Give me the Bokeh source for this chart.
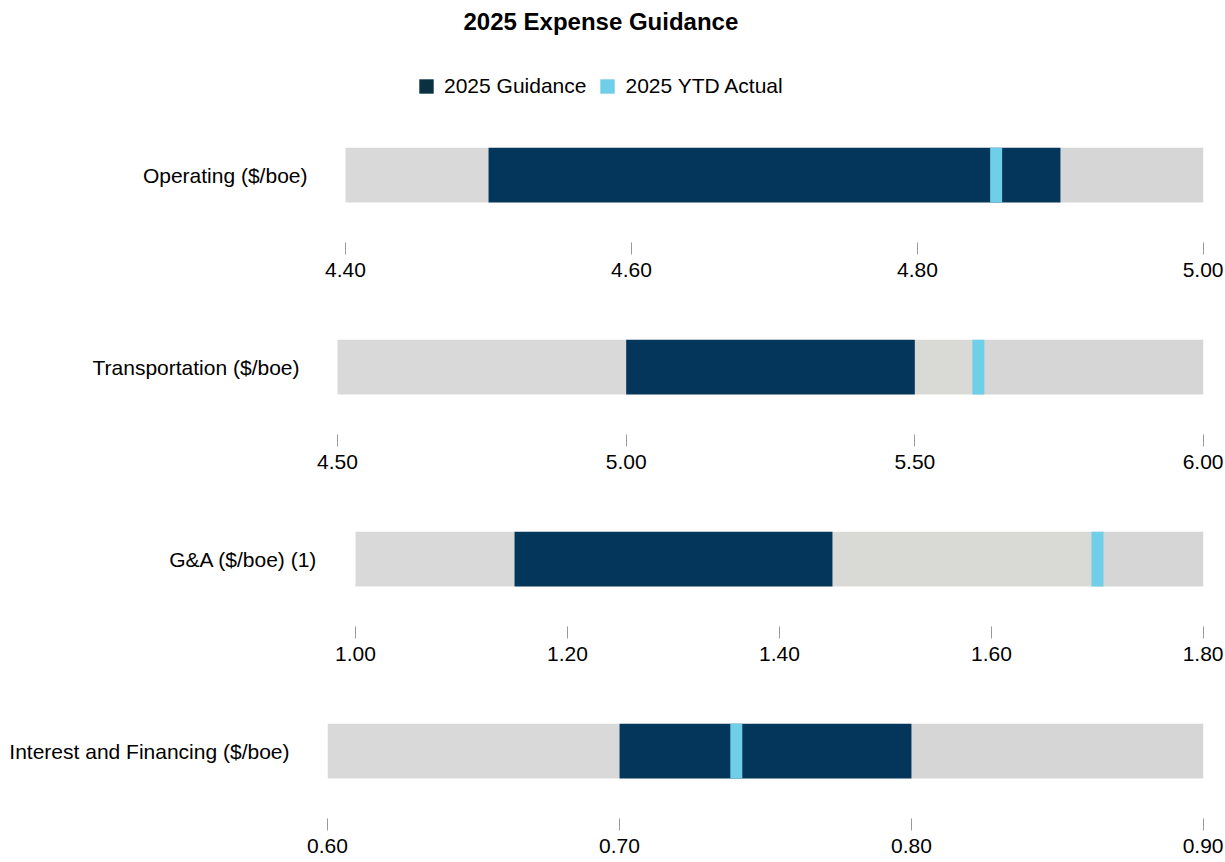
from bokeh.plotting import figure
from bokeh.layouts import column
from bokeh.models import (Range1d, FixedTicker, NumeralTickFormatter, Legend, LegendItem,
                          ColumnDataSource)
from bokeh.embed import file_html
from bokeh.resources import INLINE

# ---------------- data ----------------
labels = ["Operating ($/boe)", "Transportation ($/boe)", "G&A ($/boe) (1)",
          "Interest and Financing ($/boe)"]
axis_min = [4.40, 4.50, 1.00, 0.60]
axis_max = [5.00, 6.00, 1.80, 0.90]
guidance_low = [4.50, 5.00, 1.15, 0.70]
guidance_high = [4.90, 5.50, 1.45, 0.80]
ytd_actual = [4.855, 5.61, 1.70, 0.74]
tick_values = [
    [4.40, 4.60, 4.80, 5.00],
    [4.50, 5.00, 5.50, 6.00],
    [1.00, 1.20, 1.40, 1.60, 1.80],
    [0.60, 0.70, 0.80, 0.90],
]
series_names = ["2025 Guidance", "2025 YTD Actual"]

# ---------------- style / layout ----------------
FONT = "Liberation Sans"
NAVY = "#03365a"
LIGHT_BLUE = "#6fcfe8"
LEGEND_NAVY = "#0a3140"
GREY_LEFT = "#d9d9d9"
GREY_MID = "#d9d9d6"
GREY_RIGHT = "#d6d6d6"
bar_start_px = [345, 337, 355, 327]   # x where each row's bar starts
FRAME_LEFT = min(bar_start_px)
FRAME_RIGHT = 1203
BORDER_L = FRAME_LEFT
BORDER_R = 20
PAGE_W = BORDER_L + (FRAME_RIGHT - FRAME_LEFT) + BORDER_R
BAR_PX = 55
GAP_PX = 40
HEADER_H = 100
ROW_TOP = 47
ROW_BOTTOM = 50
LAST_BOTTOM = 44
LABEL_GAP = 32

# ---------------- header: title + legend ----------------
header = figure(width=PAGE_W, height=HEADER_H, output_backend="svg", toolbar_location=None,
                x_range=Range1d(0, 1), y_range=Range1d(0, 1),
                x_axis_type=None, y_axis_type=None,
                min_border_left=BORDER_L, min_border_right=BORDER_R,
                min_border_top=4, min_border_bottom=0)
header.outline_line_color = None
header.grid.visible = False
header.title.text = "2025 Expense Guidance"
header.title.align = "left"
header.title.offset = 464 - FRAME_LEFT - 1
header.title.text_font = FONT
header.title.text_font_size = "24px"
header.title.text_font_style = "bold"
header.title.text_color = "#000000"

nan = float("nan")
dummy = ColumnDataSource(data=dict(x=[nan], y=[nan]))
r_g = header.rect(x="x", y="y", width=0.01, height=0.01, source=dummy,
                  fill_color=LEGEND_NAVY, line_color=None)
r_y = header.rect(x="x", y="y", width=0.01, height=0.01, source=dummy,
                  fill_color=LIGHT_BLUE, line_color=None)
legend = Legend(items=[LegendItem(label=series_names[0], renderers=[r_g]),
                       LegendItem(label=series_names[1], renderers=[r_y])],
                orientation="horizontal", location=(419 - FRAME_LEFT - 2, 2))
legend.label_text_font = FONT
legend.label_text_font_size = "21px"
legend.label_text_color = "#000000"
legend.glyph_width = 18
legend.glyph_height = 18
legend.label_standoff = 9
legend.spacing = 12
legend.padding = 0
legend.margin = 0
legend.border_line_color = None
legend.background_fill_alpha = 0
header.add_layout(legend, "center")

# ---------------- rows ----------------
rows = [header]
n = len(labels)
for i in range(n):
    last = (i == n - 1)
    bottom = LAST_BOTTOM if last else ROW_BOTTOM
    lo, hi = axis_min[i], axis_max[i]
    # extend the range to the left so that the bar starts at its own x position
    shift = bar_start_px[i] - FRAME_LEFT
    x_start = lo - shift * (hi - lo) / (FRAME_RIGHT - bar_start_px[i])
    p = figure(width=PAGE_W, height=ROW_TOP + BAR_PX + GAP_PX + bottom,
               output_backend="svg", toolbar_location=None,
               x_range=Range1d(x_start, hi),
               y_range=Range1d(-0.5 - GAP_PX / BAR_PX, 0.5),
               min_border_left=BORDER_L, min_border_right=BORDER_R,
               min_border_top=ROW_TOP, min_border_bottom=bottom)
    p.outline_line_color = None
    p.grid.visible = False
    p.background_fill_color = "white"
    p.border_fill_color = "white"

    # background segments
    right_split = max(guidance_high[i], ytd_actual[i])
    p.hbar(y=[0], left=[lo], right=[guidance_low[i]], height=1,
           fill_color=GREY_LEFT, line_color=None)
    p.hbar(y=[0], left=[guidance_high[i]], right=[right_split], height=1,
           fill_color=GREY_MID, line_color=None)
    p.hbar(y=[0], left=[right_split], right=[hi], height=1,
           fill_color=GREY_RIGHT, line_color=None)
    # guidance range
    p.hbar(y=[0], left=[guidance_low[i]], right=[guidance_high[i]], height=1,
           fill_color=NAVY, line_color=None)
    # YTD actual marker
    p.rect(x=[ytd_actual[i]], y=[0], width=12, width_units="screen", height=1,
           fill_color=LIGHT_BLUE, line_color=None)

    xa = p.xaxis[0]
    xa.ticker = FixedTicker(ticks=tick_values[i])
    xa.formatter = NumeralTickFormatter(format="0.00")
    xa.axis_line_color = None
    xa.major_tick_line_color = "#999999"
    xa.major_tick_out = 12
    xa.major_tick_in = 0
    xa.minor_tick_line_color = None
    xa.major_label_standoff = 8
    xa.major_label_text_font = FONT
    xa.major_label_text_font_size = "21px"
    xa.major_label_text_color = "#000000"

    ya = p.yaxis[0]
    ya.ticker = FixedTicker(ticks=[0])
    ya.major_label_overrides = {0: labels[i]}
    ya.axis_line_color = None
    ya.major_tick_line_color = None
    ya.minor_tick_line_color = None
    # label sits LABEL_GAP px left of where its own bar starts
    ya.major_label_standoff = LABEL_GAP - shift
    ya.major_label_text_font = FONT
    ya.major_label_text_font_size = "21px"
    ya.major_label_text_color = "#000000"
    rows.append(p)

layout = column(*rows, spacing=0)
open("out.html", "w").write(file_html(layout, INLINE))
